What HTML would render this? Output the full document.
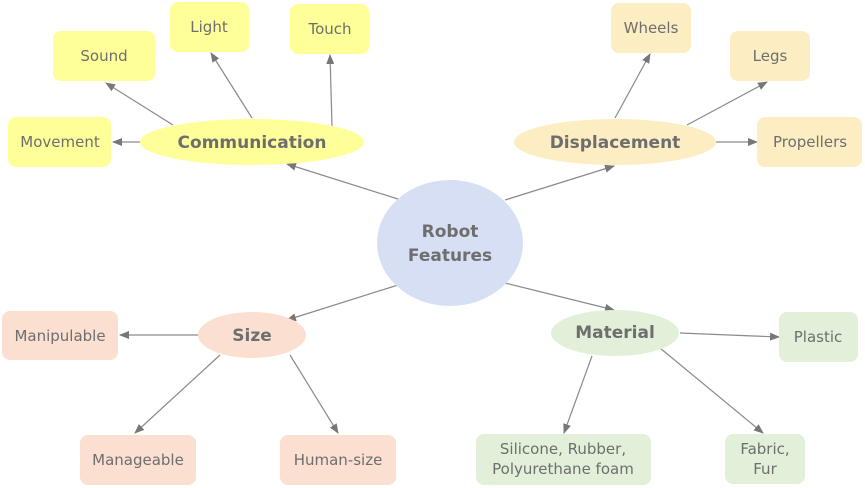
<!DOCTYPE html>
<html><head><meta charset="utf-8"><style>
html,body{margin:0;padding:0;background:#fff;}
svg{display:block;}
text{font-family:"DejaVu Sans","Liberation Sans",sans-serif;fill:#6e6e6e;text-anchor:middle;dominant-baseline:central;}
.b{font-size:15px;}
.e{font-size:17px;font-weight:bold;}
</style></head><body>
<svg width="865" height="488" viewBox="0 0 865 488" xmlns="http://www.w3.org/2000/svg">
<defs><marker id="a" markerWidth="10" markerHeight="8" refX="9" refY="4" orient="auto" markerUnits="userSpaceOnUse"><path d="M0,0 L10,4 L0,8 Z" fill="#777"/></marker></defs>
<g stroke="#8a8a8a" stroke-width="1.2" marker-end="url(#a)">
<line x1="398" y1="199" x2="287" y2="164"/>
<line x1="140" y1="142" x2="113" y2="142"/>
<line x1="173" y1="125" x2="106" y2="83"/>
<line x1="252" y1="118" x2="211" y2="53"/>
<line x1="332" y1="126" x2="330" y2="55"/>
<line x1="505" y1="200" x2="614" y2="166"/>
<line x1="615" y1="118" x2="650" y2="54"/>
<line x1="687" y1="125" x2="767" y2="82"/>
<line x1="716" y1="142" x2="757" y2="142"/>
<line x1="398" y1="285" x2="287" y2="320"/>
<line x1="199" y1="335" x2="120" y2="335"/>
<line x1="220" y1="355" x2="135" y2="433"/>
<line x1="290" y1="355" x2="338" y2="433"/>
<line x1="505" y1="283" x2="614" y2="310"/>
<line x1="680" y1="333" x2="779" y2="337"/>
<line x1="592" y1="356" x2="564" y2="433"/>
<line x1="660" y1="348" x2="763" y2="433"/>
</g>
<ellipse cx="450" cy="243" rx="73" ry="63" fill="#d6dff4"/>
<text x="450" y="232" class="e">Robot</text><text x="450" y="256" class="e">Features</text>

<g fill="#ffff99">
<ellipse cx="252" cy="142" rx="112" ry="23"/>
<rect x="8" y="117" width="103" height="50" rx="8"/>
<rect x="53" y="31" width="102" height="50" rx="8"/>
<rect x="170" y="2" width="79" height="50" rx="8"/>
<rect x="290" y="4" width="79" height="50" rx="8"/>
</g>
<text x="252" y="143" class="e">Communication</text>
<text x="60" y="142" class="b">Movement</text>
<text x="104" y="56" class="b">Sound</text>
<text x="209" y="27" class="b">Light</text>
<text x="330" y="29" class="b">Touch</text>

<g fill="#fdedc2">
<ellipse cx="615" cy="142" rx="101" ry="23"/>
<rect x="611" y="3" width="80" height="50" rx="8"/>
<rect x="730" y="31" width="80" height="50" rx="8"/>
<rect x="757" y="117" width="105" height="50" rx="8"/>
</g>
<text x="615" y="143" class="e">Displacement</text>
<text x="651" y="28" class="b">Wheels</text>
<text x="770" y="56" class="b">Legs</text>
<text x="810" y="142" class="b">Propellers</text>

<g fill="#fbdfd1">
<ellipse cx="252" cy="335" rx="54" ry="23"/>
<rect x="2" y="311" width="116" height="49" rx="8"/>
<rect x="80" y="435" width="116" height="50" rx="8"/>
<rect x="280" y="435" width="116" height="50" rx="8"/>
</g>
<text x="252" y="336" class="e">Size</text>
<text x="60" y="336" class="b">Manipulable</text>
<text x="138" y="460" class="b">Manageable</text>
<text x="338" y="460" class="b">Human-size</text>

<g fill="#e2f0d9">
<ellipse cx="615" cy="333" rx="64" ry="23"/>
<rect x="779" y="312" width="79" height="50" rx="8"/>
<rect x="476" y="434" width="175" height="51" rx="8"/>
<rect x="725" y="434" width="80" height="50" rx="8"/>
</g>
<text x="615" y="333" class="e">Material</text>
<text x="818" y="337" class="b">Plastic</text>
<text x="563" y="449" class="b">Silicone, Rubber,</text>
<text x="563" y="469" class="b">Polyurethane foam</text>
<text x="765" y="449" class="b">Fabric,</text>
<text x="765" y="469" class="b">Fur</text>
</svg>
</body></html>
